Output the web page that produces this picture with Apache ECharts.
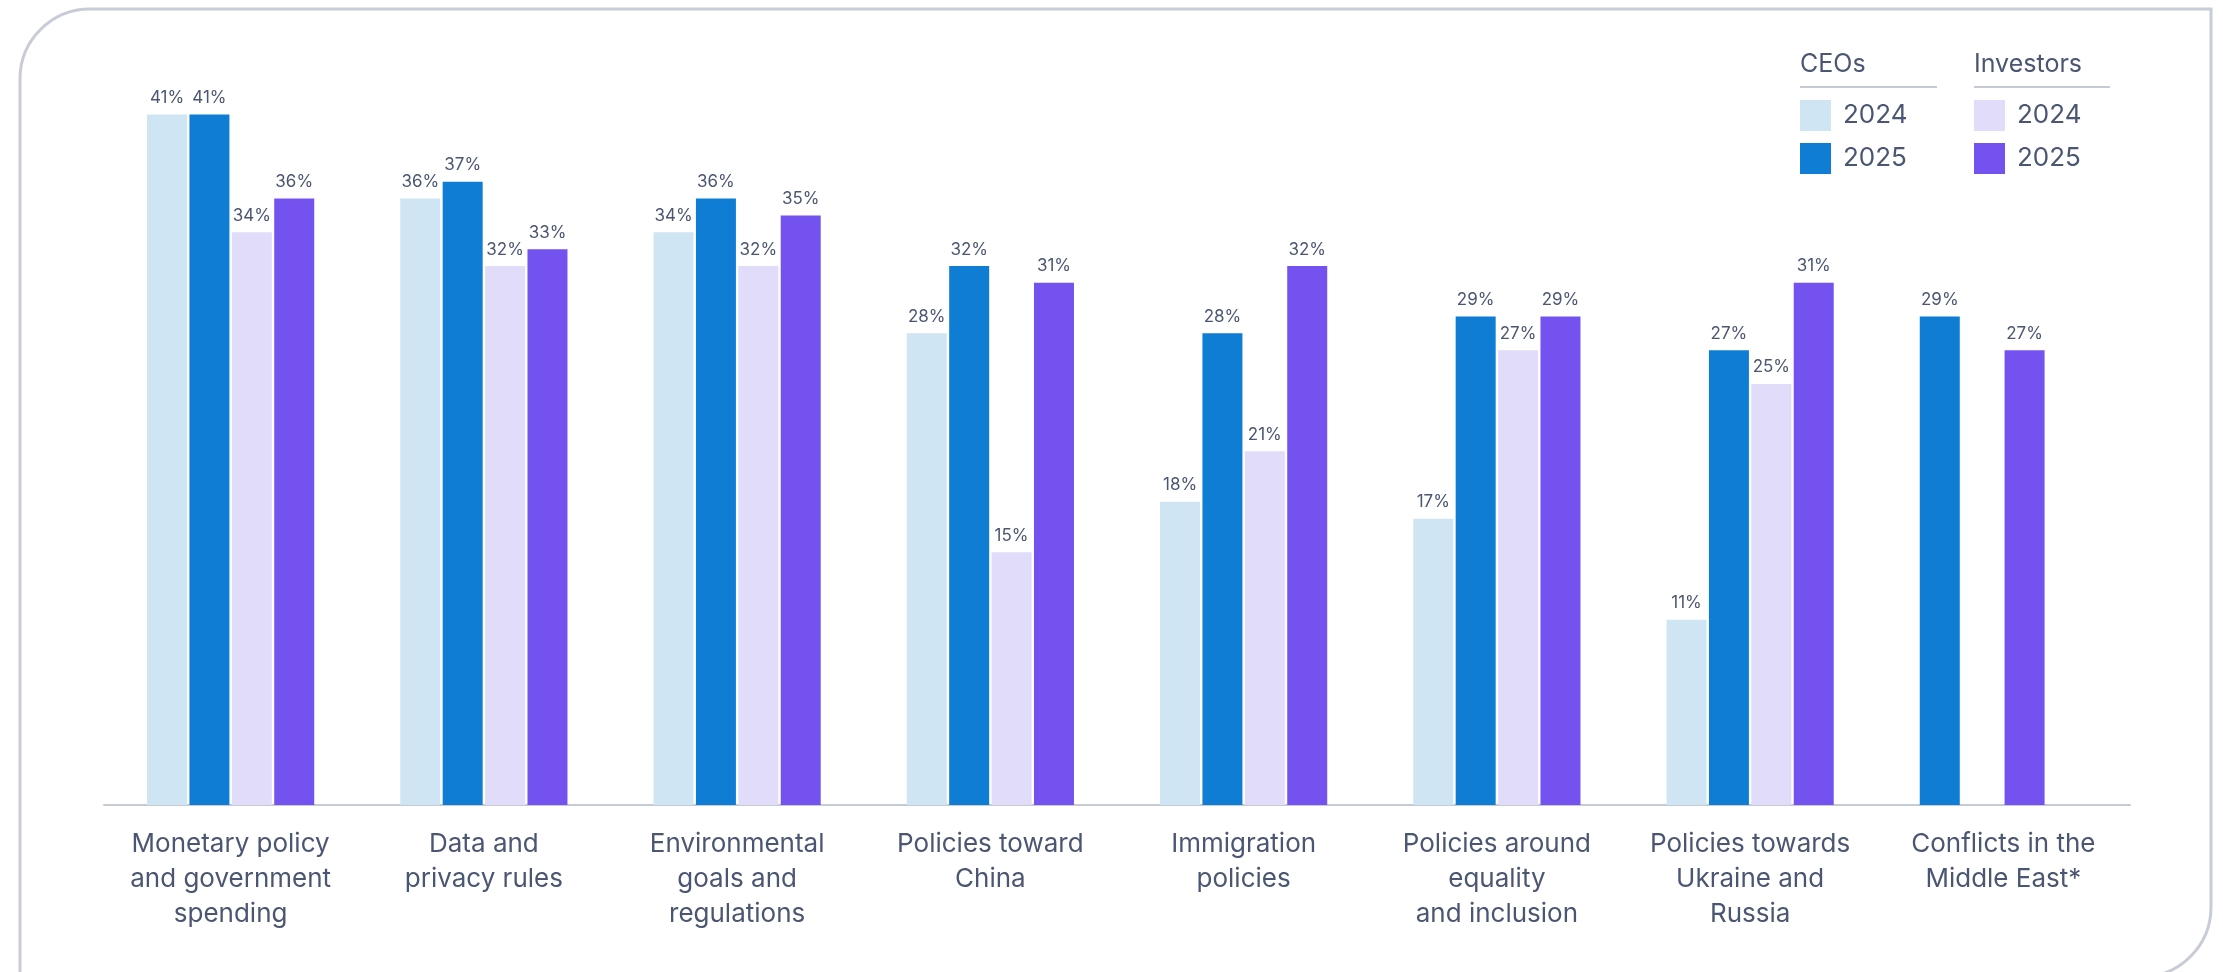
<!DOCTYPE html>
<html>
<head>
<meta charset="utf-8">
<script src="https://cdn.jsdelivr.net/npm/echarts@6/dist/echarts.min.js"></script>
<style>
html,body{margin:0;padding:0;background:#fff;}
#chart{width:2223px;height:972px;}
</style>
</head>
<body>
<div id="chart"></div>
<script>
const categories = [
  'Monetary policy\nand government\nspending',
  'Data and\nprivacy rules',
  'Environmental\ngoals and\nregulations',
  'Policies toward\nChina',
  'Immigration\npolicies',
  'Policies around\nequality\nand inclusion',
  'Policies towards\nUkraine and\nRussia',
  'Conflicts in the\nMiddle East*'
];
const ceos2024 = [41, 36, 34, 28, 18, 17, 11, null];
const ceos2025 = [41, 37, 36, 32, 28, 29, 27, 29];
const investors2024 = [34, 32, 32, 15, 21, 27, 25, null];
const investors2025 = [36, 33, 35, 31, 32, 29, 31, 27];
const groupTitles = ['CEOs', 'Investors'];
const years = ['2024', '2025'];

const textColor = '#4b5672';
const font = 'Inter, "Liberation Sans", sans-serif';
const colors = ['#cfe5f3', '#0f7dd4', '#e1dcfa', '#7352f0'];
const seriesNames = ['CEOs 2024', 'CEOs 2025', 'Investors 2024', 'Investors 2025'];

// Where a 2024 value is missing (new item in 2025), the 2025 bar takes the
// first slot of its pair, as in the source chart.
function slotFirst(a, b, colorB) {
  return a.map((v, i) => v != null ? v : {value: b[i], itemStyle: {color: colorB}});
}
function slotSecond(a, b) {
  return b.map((v, i) => a[i] != null ? v : null);
}
const seriesData = [
  slotFirst(ceos2024, ceos2025, colors[1]),
  slotSecond(ceos2024, ceos2025),
  slotFirst(investors2024, investors2025, colors[3]),
  slotSecond(investors2024, investors2025)
];

const chart = echarts.init(document.getElementById('chart'), null, {renderer: 'canvas'});

const series = seriesData.map((d, i) => ({
  name: seriesNames[i],
  type: 'bar',
  data: d,
  barWidth: 40,
  barGap: '6%',
  itemStyle: {color: colors[i]},
  label: {
    show: true,
    position: 'top',
    distance: 8,
    formatter: p => p.value == null ? '' : p.value + '%',
    color: textColor,
    fontFamily: font,
    fontSize: 17
  },
  emphasis: {disabled: true}
}));

const legendCommon = {
  orient: 'vertical',
  top: 100,
  itemWidth: 31,
  itemHeight: 31,
  itemGap: 12,
  icon: 'rect',
  padding: 0,
  selectedMode: false,
  formatter: n => n.split(' ')[1],
  textStyle: {color: textColor, fontFamily: font, fontSize: 26, lineHeight: 31, padding: [0, 0, 0, 7]}
};

chart.setOption({
  animation: false,
  backgroundColor: '#fff',
  title: [
    {text: groupTitles[0], left: 1800, top: 49, padding: 0,
     textStyle: {color: textColor, fontFamily: font, fontSize: 25, fontWeight: 'normal', lineHeight: 30}},
    {text: groupTitles[1], left: 1974, top: 49, padding: 0,
     textStyle: {color: textColor, fontFamily: font, fontSize: 25, fontWeight: 'normal', lineHeight: 30}}
  ],
  legend: [
    Object.assign({left: 1800, data: [seriesNames[0], seriesNames[1]]}, legendCommon),
    Object.assign({left: 1974, data: [seriesNames[2], seriesNames[3]]}, legendCommon)
  ],
  grid: {left: 104, right: 93, top: 47, bottom: 167},
  xAxis: {
    type: 'category', data: categories,
    axisLine: {show: true, lineStyle: {color: '#c5cad3', width: 2}},
    axisTick: {show: false},
    axisLabel: {color: textColor, fontFamily: font, fontSize: 26, lineHeight: 35, margin: 22, interval: 0}
  },
  yAxis: {type: 'value', min: 0, max: 45, show: false, splitLine: {show: false}},
  graphic: [
    {type: 'rect', shape: {x: 20, y: 9, width: 2191, height: 968, r: [70, 0, 70, 0]},
     style: {fill: 'none', stroke: '#c8ccd6', lineWidth: 3}, silent: true, z: -1},
    {type: 'line', shape: {x1: 1800, y1: 87, x2: 1937, y2: 87}, style: {stroke: '#c5cad3', lineWidth: 2}},
    {type: 'line', shape: {x1: 1974, y1: 87, x2: 2110, y2: 87}, style: {stroke: '#c5cad3', lineWidth: 2}}
  ],
  series: series
});
</script>
</body>
</html>
